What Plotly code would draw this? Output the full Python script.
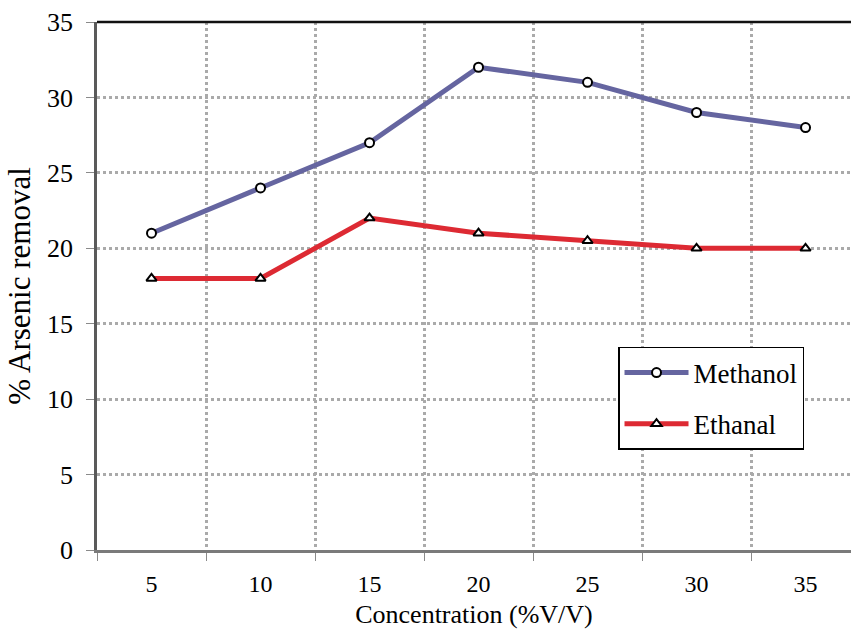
import plotly.graph_objects as go

# Data: arsenic removal (%) vs. solvent concentration (% V/V)
concentrations = ["5", "10", "15", "20", "25", "30", "35"]
methanol = [21, 24, 27, 32, 31, 29, 28]
ethanal = [18, 18, 22, 21, 20.5, 20, 20]
y_ticks = [0, 5, 10, 15, 20, 25, 30, 35]

FONT = "Liberation Serif, Times New Roman, serif"
positions = list(range(len(concentrations)))

fig = go.Figure()
fig.add_trace(go.Scatter(
    x=positions, y=methanol, name="Methanol", mode="lines+markers",
    legendgroup="m",
    line=dict(color="#6565A0", width=5),
    marker=dict(symbol="circle", size=9, color="white",
                line=dict(color="black", width=2)),
))
fig.add_trace(go.Scatter(
    x=positions, y=ethanal, name="Ethanal", mode="lines+markers",
    legendgroup="e",
    line=dict(color="#DD2A33", width=5),
    marker=dict(symbol="triangle-up", size=9, color="white",
                line=dict(color="black", width=2)),
))

# top border of the plot area
fig.add_shape(type="line", xref="paper", yref="paper", x0=0, x1=1, y0=1, y1=1,
              line=dict(color="#111111", width=2.5), layer="above")

fig.update_layout(
    width=851, height=635,
    margin=dict(l=97, r=0, t=22, b=85),
    paper_bgcolor="white", plot_bgcolor="white",
    font=dict(family=FONT, color="black", size=24),
    showlegend=True,
    legend=dict(
        x=0.691, y=0.3845, xanchor="left", yanchor="top",
        bgcolor="white", bordercolor="black", borderwidth=1.5,
        font=dict(family=FONT, size=27, color="black"),
        itemwidth=64, tracegroupgap=13,
    ),
    xaxis=dict(
        range=[-0.5, 6.417],
        tickmode="array", tickvals=positions, ticktext=concentrations,
        ticks="", showgrid=False, zeroline=False,
        showline=True, linecolor="#7a7a7a", linewidth=2.5,
        tickfont=dict(family=FONT, size=24),
        ticklabelstandoff=10,
        minor=dict(tick0=0.5, dtick=1, showgrid=True, gridcolor="#aaaaaa",
                   griddash="dot", gridwidth=2.5, ticks="outside",
                   ticklen=8, tickcolor="#8a8a8a", tickwidth=1),
        title=dict(text="Concentration (%V/V)",
                   font=dict(family=FONT, size=26), standoff=10),
    ),
    yaxis=dict(
        range=[0, 35], tickmode="array", tickvals=y_ticks,
        ticks="outside", ticklen=8, tickcolor="#8a8a8a", tickwidth=1,
        showgrid=True, gridcolor="#aaaaaa", griddash="dot", gridwidth=2.5,
        zeroline=False, showline=True, linecolor="#5a5a5a", linewidth=2.5,
        tickfont=dict(family=FONT, size=26),
        ticklabelstandoff=8,
        title=dict(text="% Arsenic removal",
                   font=dict(family=FONT, size=31), standoff=8),
    ),
)

fig.write_html("out.html")
